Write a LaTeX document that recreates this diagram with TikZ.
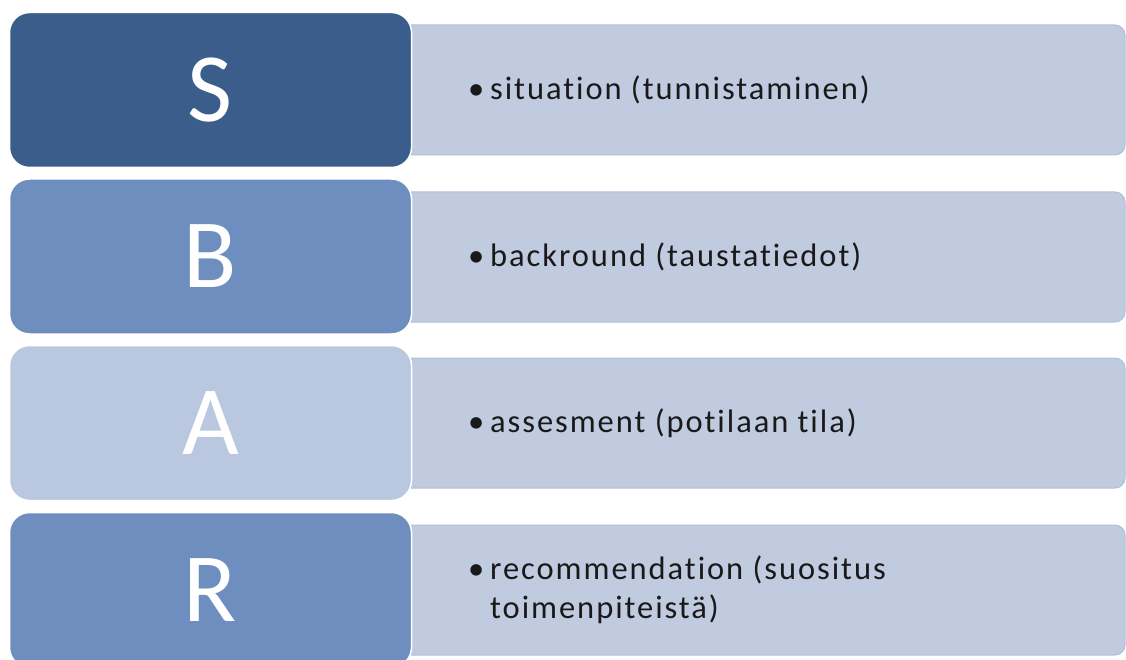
\documentclass[tikz,border=0pt]{standalone}
\usepackage{fontspec}
\setmainfont{Carlito}[Ligatures={NoCommon}]
\usetikzlibrary{positioning}
\definecolor{sDark}{HTML}{3A5D8B}
\definecolor{sMid}{HTML}{6E8EBF}
\definecolor{sLight}{HTML}{BAC8DF}
\definecolor{barFill}{HTML}{C0CBDF}
\definecolor{barLine}{HTML}{B2BFD8}
\newcommand{\itembul}{\makebox[22pt][l]{\textbullet}}
\begin{document}
\begin{tikzpicture}[x=1pt, y=-1pt,
  letterbox/.style={rectangle, rounded corners=20pt, draw=white, line width=1.5pt,
    minimum width=402pt, minimum height=155pt, text=white,
    font=\fontsize{98}{98}\selectfont},
  bar/.style={rectangle, rounded corners=10pt, draw=barLine, line width=1pt,
    fill=barFill, minimum width=745pt, minimum height=130pt},
  itemtxt/.style={anchor=west, inner sep=0pt, align=left,
    font=\fontsize{32.5}{39}\selectfont\addfontfeatures{LetterSpace=6}, text=black!90}
]
\useasboundingbox (0,0) rectangle (1126,660);
% === Bars behind the letters ===
\node[bar] (barS) at (752.5,90) {};
\node[bar] (barB) at (752.5,257) {};
\node[bar] (barA) at (752.5,423) {};
\node[bar] (barR) at (752.5,590) {};
% === Letter boxes ===
\node[letterbox, fill=sDark] (S) at (210.5,90) {S};
\node[letterbox, fill=sMid] (B) at (210.5,256.5) {B};
\node[letterbox, fill=sLight] (A) at (210.5,423) {A};
\node[letterbox, fill=sMid] (R) at (210.5,590) {R};
% === Item texts ===
\node[itemtxt] (tS) at (468,90) {\itembul situation (tunnistaminen)};
\node[itemtxt] (tB) at (468,257) {\itembul backround (taustatiedot)};
\node[itemtxt] (tA) at (468,423) {\itembul assesment (potilaan tila)};
\node[itemtxt] (tR) at (468,590) {\itembul recommendation (suositus\\
  \hspace*{22pt}toimenpiteistä)};
\end{tikzpicture}
\end{document}
